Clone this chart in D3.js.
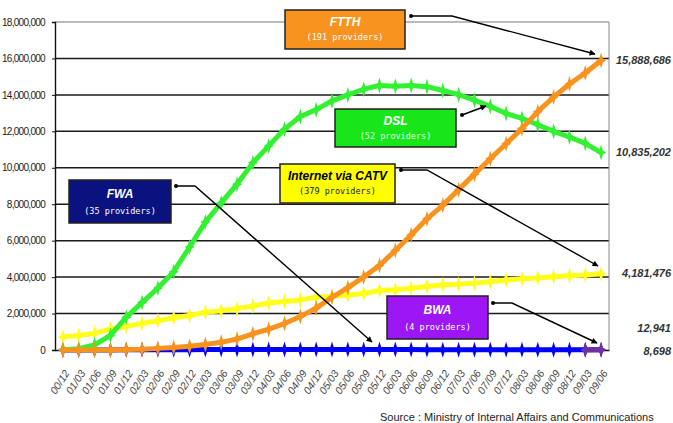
<!DOCTYPE html>
<html>
<head>
<meta charset="utf-8">
<script src="https://cdn.jsdelivr.net/npm/d3@7"></script>
<style>
    body { margin: 0; background: #fff; }
    svg { display: block; }
    .ytick text { font-family: "Liberation Sans Narrow", "Liberation Sans", sans-serif; font-size: 10px; fill: #222; letter-spacing: -0.7px; }
    .xlab { font-family: "Liberation Sans Narrow", "Liberation Sans", sans-serif; font-size: 10.5px; font-style: italic; fill: #444; }
    .endval { font-family: "Liberation Sans", Arial, sans-serif; font-size: 11px; font-weight: bold; font-style: italic; fill: #333; }
    .boxtitle { font-family: "Liberation Sans", Arial, sans-serif; font-size: 12px; font-weight: bold; font-style: italic; }
    .boxsub { font-family: "DejaVu Sans Mono", monospace; font-size: 8.5px; }
    .source { font-family: "Liberation Sans", Arial, sans-serif; font-size: 11px; fill: #222; }
</style>
</head>
<body>
<svg id="chart-svg" width="673" height="423"></svg>
<script>
// quarterly periods (yy/mm)
const periods = ['00/12','01/03','01/06','01/09','01/12','02/03','02/06','02/09','02/12',
    '03/03','03/06','03/09','03/12','04/03','04/06','04/09','04/12','05/03','05/06','05/09',
    '05/12','06/03','06/06','06/09','06/12','07/03','07/06','07/09','07/12','08/03','08/06',
    '08/09','08/12','09/03','09/06']

const ftth = [0, 0, 0, 1600, 22000, 35000, 89000, 140000, 200000, 305000, 420000, 600000,
    890000, 1140000, 1450000, 1840000, 2300000, 2890000, 3420000, 4000000, 4640000, 5460000,
    6310000, 7200000, 7940000, 8800000, 9650000, 10500000, 11320000, 12150000, 13080000,
    13880000, 14600000, 15200000, 15888686]

const dsl = [9723, 70655, 285000, 800000, 1800000, 2600000, 3400000, 4300000, 5650000,
    7020000, 8070000, 9100000, 10270000, 11200000, 12120000, 12810000, 13190000, 13670000,
    14000000, 14310000, 14520000, 14480000, 14510000, 14450000, 14240000, 14010000, 13710000,
    13370000, 12980000, 12710000, 12360000, 12000000, 11690000, 11340000, 10835202]

const catv = [720000, 790000, 920000, 1150000, 1300000, 1460000, 1610000, 1770000, 1890000,
    2070000, 2160000, 2270000, 2420000, 2580000, 2660000, 2750000, 2890000, 2950000, 3020000,
    3100000, 3270000, 3310000, 3390000, 3480000, 3580000, 3610000, 3670000, 3750000, 3840000,
    3910000, 3950000, 4020000, 4080000, 4110000, 4181476]

const fwa = [855, 1300, 2800, 5200, 7100, 9400, 13000, 16000, 19000, 21000, 23000, 25000,
    26000, 27000, 28000, 29000, 29000, 28000, 27500, 26000, 24000, 22500, 21000, 20000, 18500,
    17500, 16500, 15500, 15000, 14500, 14000, 13800, 13500, 13200, 12941]

const bwa = [null, null, null, null, null, null, null, null, null, null, null, null, null,
    null, null, null, null, null, null, null, null, null, null, null, null, null, null, null,
    null, null, null, null, null, 2500, 8698]

const yTicks = [0, 2000000, 4000000, 6000000, 8000000, 10000000, 12000000, 14000000, 16000000, 18000000]

// value labels printed at the right edge
const endLabels = ['15,888,686', '10,835,202', '4,181,476', '12,941', '8,698']

// callout boxes
const boxNames = ['FTTH', 'DSL', 'Internet via CATV', 'FWA', 'BWA']
const boxSubs = ['(191 providers)', '(52 providers)', '(379 providers)', '(35 providers)', '(4 providers)']

const plot = { left: 55, right: 609, top: 22, bottom: 350 }

const svg = d3.select('#chart-svg')

const x = d3.scalePoint()
    .domain(periods)
    .range([plot.left, plot.right])
    .padding(0.5)

const y = d3.scaleLinear()
    .domain([0, 18000000])
    .range([plot.bottom, plot.top])

// grid
svg.append('g')
    .selectAll('line')
    .data(yTicks.filter(d => d > 0 && d < 18000000))
    .join('line')
    .attr('x1', plot.left).attr('x2', plot.right)
    .attr('y1', d => y(d)).attr('y2', d => y(d))
    .attr('stroke', '#1a1a1a')
    .attr('stroke-width', 1.5)

svg.append('line')
    .attr('x1', plot.left).attr('x2', plot.right)
    .attr('y1', y(18000000)).attr('y2', y(18000000))
    .attr('stroke', '#777').attr('stroke-width', 1.2)
svg.append('line')
    .attr('x1', plot.right).attr('x2', plot.right)
    .attr('y1', plot.top).attr('y2', plot.bottom)
    .attr('stroke', '#888').attr('stroke-width', 1)

// y axis
const yAxis = svg.append('g')
    .attr('class', 'ytick')
    .attr('transform', 'translate(' + plot.left + ',0)')
    .call(d3.axisLeft(y).tickValues(yTicks).tickSize(3).tickPadding(7).tickFormat(d3.format(',')))
yAxis.select('.domain').attr('stroke', '#111').attr('stroke-width', 1.4)
yAxis.selectAll('.tick line').attr('stroke', '#111')

// x axis
const xAxis = svg.append('g')
    .attr('transform', 'translate(0,' + plot.bottom + ')')
    .call(d3.axisBottom(x).tickSize(0).tickFormat(''))
xAxis.select('.domain').attr('stroke', '#111').attr('stroke-width', 1.4)

svg.append('g')
    .selectAll('text')
    .data(periods)
    .join('text')
    .attr('class', 'xlab')
    .attr('text-anchor', 'end')
    .attr('transform', d => 'translate(' + (x(d) + 4) + ',371) rotate(-57)')
    .attr('dy', '0.35em')
    .text(d => d)

// series, drawn back to front
const series = [
    { values: fwa, color: '#0000ff' },
    { values: bwa, color: '#7030a0' },
    { values: catv, color: '#ffff1a' },
    { values: dsl, color: '#33f033' },
    { values: ftth, color: '#f7931e' }
]

const line = d3.line()
    .defined(d => d.v !== null)
    .x(d => x(d.p))
    .y(d => y(d.v))

const marker = 'M0,-8L1.8,-2L5,0L1.8,2L0,8L-1.8,2L-5,0L-1.8,-2Z'

series.forEach(s => {
    const pts = periods.map((p, i) => ({ p: p, v: s.values[i] }))
    const g = svg.append('g')
    g.append('path')
        .datum(pts)
        .attr('fill', 'none')
        .attr('stroke', s.color)
        .attr('stroke-width', 5)
        .attr('stroke-linejoin', 'round')
        .attr('d', line)
    g.selectAll('path.mk')
        .data(pts.filter(d => d.v !== null))
        .join('path')
        .attr('class', 'mk')
        .attr('d', marker)
        .attr('fill', s.color)
        .attr('transform', d => 'translate(' + x(d.p) + ',' + y(d.v) + ')')
})

// right side values
const endY = [60, 152, 273, 328, 351]
svg.append('g')
    .selectAll('text')
    .data(endLabels)
    .join('text')
    .attr('class', 'endval')
    .attr('x', 671)
    .attr('y', (d, i) => endY[i])
    .attr('dy', '0.35em')
    .attr('text-anchor', 'end')
    .text(d => d)

// arrowheads
svg.append('defs').append('marker')
    .attr('id', 'arrow')
    .attr('viewBox', '0 0 10 10')
    .attr('refX', 9).attr('refY', 5)
    .attr('markerWidth', 8).attr('markerHeight', 6)
    .attr('markerUnits', 'userSpaceOnUse')
    .attr('orient', 'auto')
    .append('path')
    .attr('d', 'M0,0L10,5L0,10Z')
    .attr('fill', '#000')

const boxes = [
    { x: 285, y: 10, w: 120, h: 39, fill: '#f7931e', text: '#fff', sub: '#fff',
      path: [[411, 16], [452, 16], [595, 54]] },
    { x: 335, y: 109, w: 121, h: 38, fill: '#19e619', text: '#fff', sub: '#dfe',
      path: [[462, 115], [486, 106]] },
    { x: 280, y: 164, w: 115, h: 39, fill: '#ffff00', text: '#000', sub: '#222',
      path: [[401, 170], [427, 170], [598, 266]] },
    { x: 69, y: 180, w: 102, h: 43, fill: '#0a1280', text: '#fff', sub: '#fff',
      path: [[176, 186], [195, 186], [372, 342]] },
    { x: 387, y: 296, w: 101, h: 43, fill: '#9d16f5', text: '#fff', sub: '#fff',
      path: [[493, 303], [512, 303], [597, 343]] }
]

boxes.forEach((b, i) => {
    svg.append('rect')
        .attr('x', b.x).attr('y', b.y)
        .attr('width', b.w).attr('height', b.h)
        .attr('fill', b.fill)
        .attr('stroke', '#222').attr('stroke-width', 1.5)
    svg.append('text')
        .attr('class', 'boxtitle')
        .attr('x', b.x + b.w / 2).attr('y', b.y + b.h * 0.42)
        .attr('text-anchor', 'middle')
        .attr('fill', b.text)
        .text(boxNames[i])
    svg.append('text')
        .attr('class', 'boxsub')
        .attr('x', b.x + b.w / 2).attr('y', b.y + b.h * 0.78)
        .attr('text-anchor', 'middle')
        .attr('fill', b.sub)
        .text(boxSubs[i])
    svg.append('path')
        .attr('d', d3.line()(b.path))
        .attr('fill', 'none')
        .attr('stroke', '#000')
        .attr('stroke-width', 1.4)
        .attr('marker-end', 'url(#arrow)')
    svg.append('circle')
        .attr('cx', b.path[0][0]).attr('cy', b.path[0][1])
        .attr('r', 2).attr('fill', '#000')
})

svg.append('text')
    .attr('class', 'source')
    .attr('x', 380).attr('y', 421)
    .text('Source : Ministry of Internal Affairs and Communications')
</script>
</body>
</html>
